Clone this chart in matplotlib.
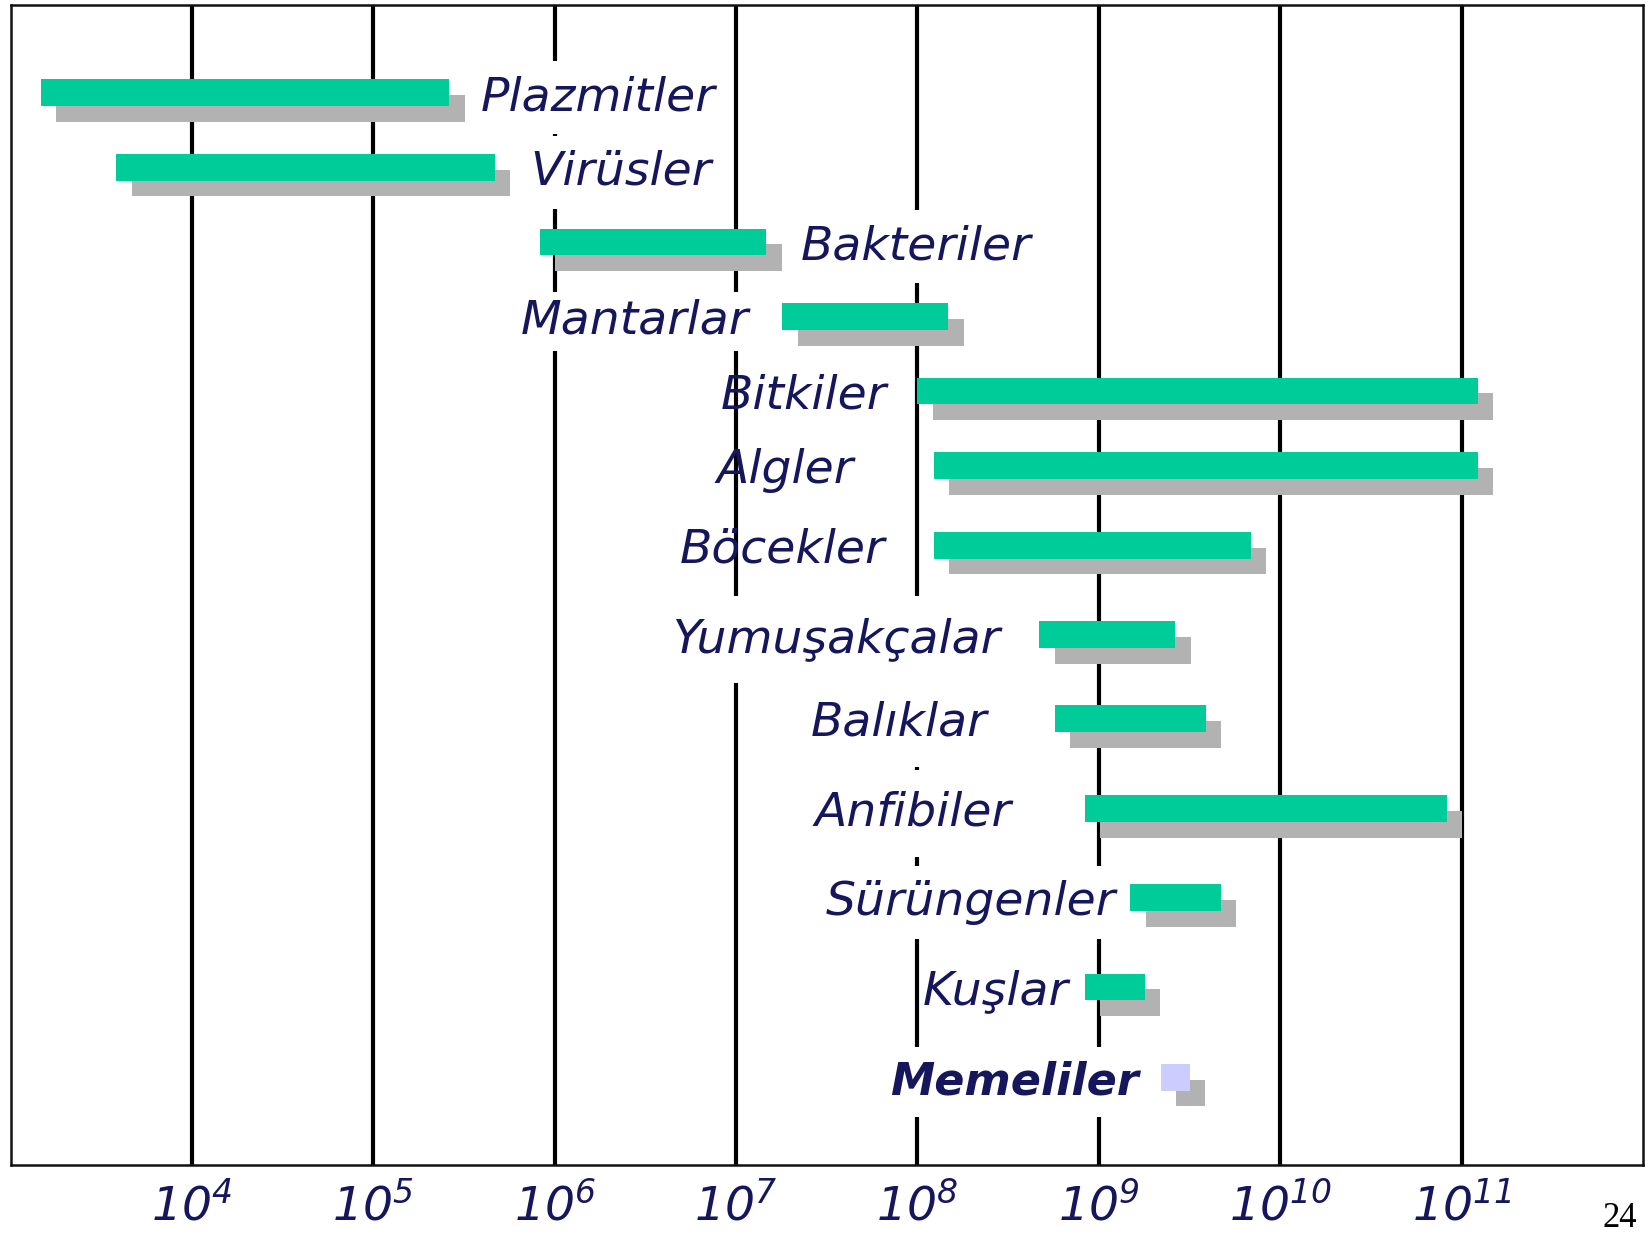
import matplotlib
matplotlib.use("Agg")
import matplotlib.pyplot as plt
import numpy as np

# ---------------- data ----------------
categories = ["Plazmitler", "Virüsler", "Bakteriler", "Mantarlar", "Bitkiler",
              "Algler", "Böcekler", "Yumuşakçalar", "Balıklar", "Anfibiler",
              "Sürüngenler", "Kuşlar", "Memeliler"]
size_min = [1.47e3, 3.84e3, 8.3e5, 1.8e7, 1.0e8, 1.23e8, 1.23e8,
            4.7e8, 5.7e8, 8.4e8, 1.49e9, 8.4e8, 2.19e9]
size_max = [2.63e5, 4.67e5, 1.47e7, 1.48e8, 1.23e11, 1.23e11, 6.9e9,
            2.64e9, 3.9e9, 8.3e10, 4.7e9, 1.79e9, 3.18e9]
tick_exponents = [4, 5, 6, 7, 8, 9, 10, 11]
tick_labels = [r"$\mathregular{10^{%d}}$" % e for e in tick_exponents]

# ---------------- layout / style ----------------
row_y = [88.5, 159.5, 230.5, 301.5, 372.5, 443.5, 519.5, 604.5, 684.5,
         770.5, 855.5, 940.5, 1026.5]
bar_h = 25.5
shadow_dy = 15.0
shadow_fx = 10 ** (14.6 / 172.7)
bar_colors = ["#00CC99"] * 12 + ["#CCCCFF"]
shadow_color = "#B2B2B2"
text_color = "#16165C"
# label anchor (axes fraction), alignment, background box, bold
label_x = [0.2881, 0.3183, 0.4842, 0.4521, 0.5370, 0.5164, 0.5357,
           0.6064, 0.5981, 0.6129, 0.6772, 0.6482, 0.6913]
label_ha = ["left", "left", "left"] + ["right"] * 10
label_box = [True, True, True, True, False, False, False,
             True, True, True, True, False, True]
label_pad = [0.3, 0.3, 0.3, 0.15, 0, 0, 0, 0.45, 0.45, 0.45, 0.3, 0, 0.3]
label_bold = [False] * 12 + [True]

fig = plt.figure(figsize=(16.46, 12.34), dpi=100)
ax = fig.add_axes([10.5 / 1646, 69 / 1234, (1643 - 10.5) / 1646, (1165 - 5) / 1234])
ax.set_xscale("log")
ax.set_xlim(1e3, 1e12)
ax.set_ylim(1110, 4.8)

lo = np.array(size_min)
hi = np.array(size_max)
ys = np.array(row_y)

# shadows
ax.barh(ys + shadow_dy, hi * shadow_fx - lo * shadow_fx, left=lo * shadow_fx,
        height=bar_h, color=shadow_color, zorder=3, linewidth=0)
# main bars
ax.barh(ys, hi - lo, left=lo, height=bar_h, color=bar_colors, zorder=4,
        linewidth=0)

# labels
for name, x, ha, box, pad, bold, y in zip(categories, label_x, label_ha,
                                          label_box, label_pad, label_bold, row_y):
    kw = {}
    if box:
        kw["bbox"] = dict(boxstyle="square,pad=%g" % pad, facecolor="white",
                          edgecolor="none")
    ax.text(x, y + 16.5, name, transform=ax.get_yaxis_transform(),
            ha=ha, va="baseline", fontsize=34 if not bold else 32,
            fontstyle="italic", fontweight="bold" if bold else "normal",
            family=["DejaVu Sans"], color=text_color, zorder=2, **kw)

# axes / grid
ax.set_yticks([])
ax.set_xticks([10.0 ** e for e in tick_exponents])
ax.set_xticklabels(tick_labels)
ax.xaxis.set_minor_locator(matplotlib.ticker.NullLocator())
ax.tick_params(axis="x", length=0, pad=13, labelsize=34, labelcolor=text_color)
for lab in ax.get_xticklabels():
    lab.set_fontstyle("italic")
    lab.set_family(["DejaVu Sans"])
ax.set_axisbelow(True)
ax.grid(axis="x", which="major", color="black", linewidth=3.0, zorder=1)
for sp in ax.spines.values():
    sp.set_color("#111111")
    sp.set_linewidth(1.8)

fig.text(1603 / 1646, 0.006, "24", ha="left", va="baseline", fontsize=25,
         family=["Liberation Serif"], color="black")

fig.savefig("out.png", dpi=100)
